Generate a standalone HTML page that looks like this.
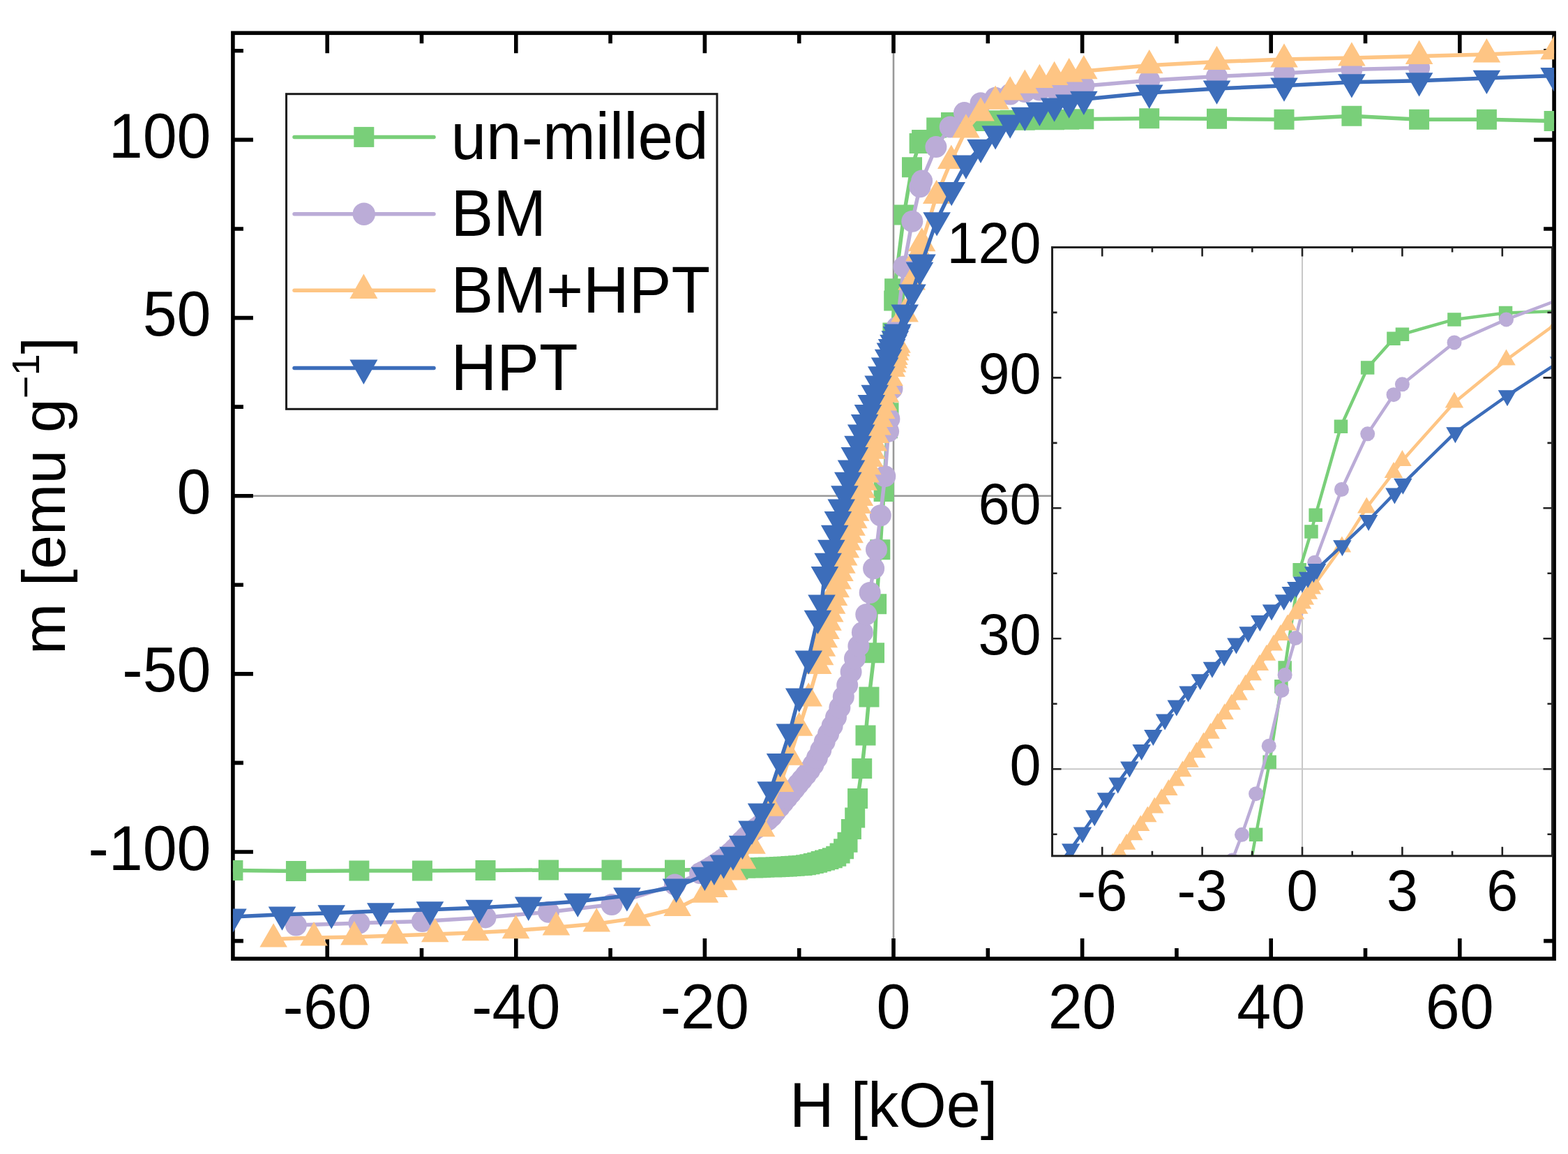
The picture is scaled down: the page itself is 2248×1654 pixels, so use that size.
<!DOCTYPE html><html><head><meta charset="utf-8"><title>m vs H</title><style>html,body{margin:0;padding:0;background:#fff;}svg{display:block;}text{font-family:'Liberation Sans', Arial, sans-serif;fill:#000;}</style></head><body>
<svg width="2248" height="1654" viewBox="0 0 2248 1654">
<defs><clipPath id="cm"><rect x="333.9" y="47.3" width="1894.2" height="1326.8"/></clipPath><clipPath id="ci"><rect x="1508.5" y="354.5" width="717" height="872.3"/></clipPath></defs>
<rect width="2248" height="1654" fill="#fff"/>
<line x1="333.9" y1="710.7" x2="2228.1" y2="710.7" stroke="#999" stroke-width="2.6"/>
<line x1="1281" y1="47.3" x2="1281" y2="1374.1" stroke="#999" stroke-width="2.6"/>
<rect x="333.9" y="47.3" width="1894.2" height="1326.8" fill="none" stroke="#000" stroke-width="5.6"/>
<path d="M469.2 1374.1v-29M469.2 47.3v29M604.5 1374.1v-15M604.5 47.3v15M739.8 1374.1v-29M739.8 47.3v29M875.1 1374.1v-15M875.1 47.3v15M1010.4 1374.1v-29M1010.4 47.3v29M1145.7 1374.1v-15M1145.7 47.3v15M1281 1374.1v-29M1281 47.3v29M1416.3 1374.1v-15M1416.3 47.3v15M1551.6 1374.1v-29M1551.6 47.3v29M1686.9 1374.1v-15M1686.9 47.3v15M1822.2 1374.1v-29M1822.2 47.3v29M1957.5 1374.1v-15M1957.5 47.3v15M2092.8 1374.1v-29M2092.8 47.3v29M333.9 1348.6h15M2228.1 1348.6h-15M333.9 1221h29M2228.1 1221h-29M333.9 1093.4h15M2228.1 1093.4h-15M333.9 965.9h29M2228.1 965.9h-29M333.9 838.3h15M2228.1 838.3h-15M333.9 710.7h29M2228.1 710.7h-29M333.9 583.1h15M2228.1 583.1h-15M333.9 455.6h29M2228.1 455.6h-29M333.9 328h15M2228.1 328h-15M333.9 200.4h29M2228.1 200.4h-29M333.9 72.8h15M2228.1 72.8h-15" stroke="#000" stroke-width="5.6" fill="none"/>
<g clip-path="url(#cm)"><polyline points="333.9,1247.5 424.4,1248.6 514.9,1248 605.4,1248 696,1247.5 786.5,1247 877,1247 967.5,1247 1058,1246 1063.4,1244.3 1068.8,1244.2 1074.3,1244 1079.7,1243.9 1085.1,1243.7 1090.5,1243.5 1095.9,1243.3 1101.3,1243.1 1106.7,1242.9 1112.1,1242.7 1117.6,1242.5 1123,1242.2 1128.4,1241.9 1133.8,1241.6 1139.2,1241.2 1144.6,1240.8 1150,1240.4 1155.4,1239.7 1160.9,1238.7 1166.3,1237.5 1171.7,1236.2 1177.1,1234.6 1182.5,1233 1187.9,1231.4 1193.3,1229.7 1198.7,1227.3 1204.1,1223 1209.6,1216.7 1215,1207.2 1220.4,1188.6 1225.7,1172 1229.6,1144.5 1235.7,1101.6 1241,1054.1 1246,999 1253.5,935.7 1256.6,865.8 1261.8,787.8 1267.1,704.6 1272.5,613.7 1274,591.8 1279.9,477 1281.7,431.1 1282.6,413.7 1295.9,308.1 1307.5,239.7 1318.1,205.5 1321.6,200.4 1342.7,183 1363.5,175.4 1384.9,173.9 1406,173.4 1427.1,172.8 1448.2,172.3 1469.3,172.3 1490.4,171.8 1511.6,171.8 1532.7,171.3 1553.8,170.8 1647.7,169.8 1744.5,170.3 1841,171.3 1937.9,166.2 2034.6,171.3 2131.4,171.3 2228.1,173.4" fill="none" stroke="#79cf79" stroke-width="5.5" stroke-linejoin="round" stroke-linecap="round"/>
<path d="M319.4 1233h29v29h-29zM409.9 1234.1h29v29h-29zM500.4 1233.5h29v29h-29zM590.9 1233.5h29v29h-29zM681.5 1233h29v29h-29zM772 1232.5h29v29h-29zM862.5 1232.5h29v29h-29zM953 1232.5h29v29h-29zM1043.5 1231.5h29v29h-29zM1048.9 1229.8h29v29h-29zM1054.3 1229.7h29v29h-29zM1059.8 1229.5h29v29h-29zM1065.2 1229.4h29v29h-29zM1070.6 1229.2h29v29h-29zM1076 1229h29v29h-29zM1081.4 1228.8h29v29h-29zM1086.8 1228.6h29v29h-29zM1092.2 1228.4h29v29h-29zM1097.6 1228.2h29v29h-29zM1103.1 1228h29v29h-29zM1108.5 1227.7h29v29h-29zM1113.9 1227.4h29v29h-29zM1119.3 1227.1h29v29h-29zM1124.7 1226.7h29v29h-29zM1130.1 1226.3h29v29h-29zM1135.5 1225.9h29v29h-29zM1140.9 1225.2h29v29h-29zM1146.4 1224.2h29v29h-29zM1151.8 1223h29v29h-29zM1157.2 1221.7h29v29h-29zM1162.6 1220.1h29v29h-29zM1168 1218.5h29v29h-29zM1173.4 1216.9h29v29h-29zM1178.8 1215.2h29v29h-29zM1184.2 1212.8h29v29h-29zM1189.6 1208.5h29v29h-29zM1195.1 1202.2h29v29h-29zM1200.5 1192.7h29v29h-29zM1205.9 1174.1h29v29h-29zM1211.2 1157.5h29v29h-29zM1215.1 1130h29v29h-29zM1221.2 1087.1h29v29h-29zM1226.5 1039.6h29v29h-29zM1231.5 984.5h29v29h-29zM1239 921.2h29v29h-29zM1242.1 851.3h29v29h-29zM1247.3 773.3h29v29h-29zM1252.6 690.1h29v29h-29zM1258 599.2h29v29h-29zM1259.5 577.3h29v29h-29zM1265.4 462.5h29v29h-29zM1267.2 416.6h29v29h-29zM1268.1 399.2h29v29h-29zM1281.4 293.6h29v29h-29zM1293 225.2h29v29h-29zM1303.6 191h29v29h-29zM1307.1 185.9h29v29h-29zM1328.2 168.5h29v29h-29zM1349 160.9h29v29h-29zM1370.4 159.4h29v29h-29zM1391.5 158.9h29v29h-29zM1412.6 158.3h29v29h-29zM1433.7 157.8h29v29h-29zM1454.8 157.8h29v29h-29zM1475.9 157.3h29v29h-29zM1497.1 157.3h29v29h-29zM1518.2 156.8h29v29h-29zM1539.3 156.3h29v29h-29zM1633.2 155.3h29v29h-29zM1730 155.8h29v29h-29zM1826.5 156.8h29v29h-29zM1923.4 151.7h29v29h-29zM2020.1 156.8h29v29h-29zM2116.9 156.8h29v29h-29zM2213.6 158.9h29v29h-29z" fill="#79cf79"/></g>
<g clip-path="url(#cm)"><polyline points="424.4,1326.1 514.9,1323.1 605.4,1320.5 696,1314.9 786.5,1307.2 877,1296.5 967.5,1267.9 1003.6,1251.6 1009,1248.8 1014.5,1245.7 1019.9,1242.4 1025.3,1239 1030.7,1235.5 1036.1,1231.7 1041.5,1227.5 1046.9,1222.7 1052.3,1217.6 1057.8,1211.9 1063.2,1206 1068.6,1200.6 1074,1195.5 1079.4,1190.8 1084.8,1186.7 1090.2,1182.7 1095.6,1178.8 1101.1,1175 1106.5,1170 1111.9,1163.3 1117.3,1156.9 1122.7,1150.4 1128.1,1143.9 1133.5,1137.4 1138.9,1130.8 1144.3,1124 1149.8,1117.5 1155.2,1110.9 1160.6,1103.9 1166,1096 1171.4,1086.2 1176.8,1074.9 1182.2,1063.1 1187.6,1051.8 1193.1,1040.5 1198.5,1028.1 1203.9,1014.1 1209.3,998.8 1214.7,981.9 1220.1,963 1225.5,943.7 1230.9,925.9 1236.4,906.4 1241.8,880.7 1247.2,849.5 1252.6,814.7 1256.5,787.8 1262.3,738.8 1268.8,682.6 1273.6,618.3 1274.9,600.5 1279,557.1 1286,469.3 1295.9,382.1 1307.8,317.3 1318.9,267.8 1321.6,259.1 1341.9,210.6 1362.2,182 1382.5,161.6 1406,147.8 1427.1,140.2 1448.2,135.1 1469.3,131.5 1490.4,129 1511.6,126.9 1532.7,124.9 1553.8,123.3 1647.7,115.2 1744.5,109.6 1841,105 1937.9,99.4 2034.6,97.3" fill="none" stroke="#bbacd7" stroke-width="5.5" stroke-linejoin="round" stroke-linecap="round"/>
<g fill="#bbacd7"><circle cx="424.4" cy="1326.1" r="15.5"/>
<circle cx="514.9" cy="1323.1" r="15.5"/>
<circle cx="605.4" cy="1320.5" r="15.5"/>
<circle cx="696" cy="1314.9" r="15.5"/>
<circle cx="786.5" cy="1307.2" r="15.5"/>
<circle cx="877" cy="1296.5" r="15.5"/>
<circle cx="967.5" cy="1267.9" r="15.5"/>
<circle cx="1003.6" cy="1251.6" r="15.5"/>
<circle cx="1009" cy="1248.8" r="15.5"/>
<circle cx="1014.5" cy="1245.7" r="15.5"/>
<circle cx="1019.9" cy="1242.4" r="15.5"/>
<circle cx="1025.3" cy="1239" r="15.5"/>
<circle cx="1030.7" cy="1235.5" r="15.5"/>
<circle cx="1036.1" cy="1231.7" r="15.5"/>
<circle cx="1041.5" cy="1227.5" r="15.5"/>
<circle cx="1046.9" cy="1222.7" r="15.5"/>
<circle cx="1052.3" cy="1217.6" r="15.5"/>
<circle cx="1057.8" cy="1211.9" r="15.5"/>
<circle cx="1063.2" cy="1206" r="15.5"/>
<circle cx="1068.6" cy="1200.6" r="15.5"/>
<circle cx="1074" cy="1195.5" r="15.5"/>
<circle cx="1079.4" cy="1190.8" r="15.5"/>
<circle cx="1084.8" cy="1186.7" r="15.5"/>
<circle cx="1090.2" cy="1182.7" r="15.5"/>
<circle cx="1095.6" cy="1178.8" r="15.5"/>
<circle cx="1101.1" cy="1175" r="15.5"/>
<circle cx="1106.5" cy="1170" r="15.5"/>
<circle cx="1111.9" cy="1163.3" r="15.5"/>
<circle cx="1117.3" cy="1156.9" r="15.5"/>
<circle cx="1122.7" cy="1150.4" r="15.5"/>
<circle cx="1128.1" cy="1143.9" r="15.5"/>
<circle cx="1133.5" cy="1137.4" r="15.5"/>
<circle cx="1138.9" cy="1130.8" r="15.5"/>
<circle cx="1144.3" cy="1124" r="15.5"/>
<circle cx="1149.8" cy="1117.5" r="15.5"/>
<circle cx="1155.2" cy="1110.9" r="15.5"/>
<circle cx="1160.6" cy="1103.9" r="15.5"/>
<circle cx="1166" cy="1096" r="15.5"/>
<circle cx="1171.4" cy="1086.2" r="15.5"/>
<circle cx="1176.8" cy="1074.9" r="15.5"/>
<circle cx="1182.2" cy="1063.1" r="15.5"/>
<circle cx="1187.6" cy="1051.8" r="15.5"/>
<circle cx="1193.1" cy="1040.5" r="15.5"/>
<circle cx="1198.5" cy="1028.1" r="15.5"/>
<circle cx="1203.9" cy="1014.1" r="15.5"/>
<circle cx="1209.3" cy="998.8" r="15.5"/>
<circle cx="1214.7" cy="981.9" r="15.5"/>
<circle cx="1220.1" cy="963" r="15.5"/>
<circle cx="1225.5" cy="943.7" r="15.5"/>
<circle cx="1230.9" cy="925.9" r="15.5"/>
<circle cx="1236.4" cy="906.4" r="15.5"/>
<circle cx="1241.8" cy="880.7" r="15.5"/>
<circle cx="1247.2" cy="849.5" r="15.5"/>
<circle cx="1252.6" cy="814.7" r="15.5"/>
<circle cx="1256.5" cy="787.8" r="15.5"/>
<circle cx="1262.3" cy="738.8" r="15.5"/>
<circle cx="1268.8" cy="682.6" r="15.5"/>
<circle cx="1273.6" cy="618.3" r="15.5"/>
<circle cx="1274.9" cy="600.5" r="15.5"/>
<circle cx="1279" cy="557.1" r="15.5"/>
<circle cx="1286" cy="469.3" r="15.5"/>
<circle cx="1295.9" cy="382.1" r="15.5"/>
<circle cx="1307.8" cy="317.3" r="15.5"/>
<circle cx="1318.9" cy="267.8" r="15.5"/>
<circle cx="1321.6" cy="259.1" r="15.5"/>
<circle cx="1341.9" cy="210.6" r="15.5"/>
<circle cx="1362.2" cy="182" r="15.5"/>
<circle cx="1382.5" cy="161.6" r="15.5"/>
<circle cx="1406" cy="147.8" r="15.5"/>
<circle cx="1427.1" cy="140.2" r="15.5"/>
<circle cx="1448.2" cy="135.1" r="15.5"/>
<circle cx="1469.3" cy="131.5" r="15.5"/>
<circle cx="1490.4" cy="129" r="15.5"/>
<circle cx="1511.6" cy="126.9" r="15.5"/>
<circle cx="1532.7" cy="124.9" r="15.5"/>
<circle cx="1553.8" cy="123.3" r="15.5"/>
<circle cx="1647.7" cy="115.2" r="15.5"/>
<circle cx="1744.5" cy="109.6" r="15.5"/>
<circle cx="1841" cy="105" r="15.5"/>
<circle cx="1937.9" cy="99.4" r="15.5"/>
<circle cx="2034.6" cy="97.3" r="15.5"/></g></g>
<g clip-path="url(#cm)"><polyline points="392.1,1346 450,1344 507.9,1343 565.8,1340.9 623.7,1338.9 681.6,1336.8 739.5,1333.8 797.4,1329.2 855.3,1324.1 913.3,1315.9 971.2,1301.6 1010.4,1282.2 1023.9,1274.6 1037.5,1264.4 1051,1250.1 1064.5,1233.8 1078,1212.3 1091.6,1187.8 1105.1,1158.2 1118.6,1123.5 1132.2,1085.3 1145.7,1043.4 1159.2,1001.1 1172.8,954.6 1175.6,941.9 1178.4,929.3 1181.3,916.8 1184.1,904.4 1187,892.2 1189.8,880.2 1192.6,868.2 1195.5,856.4 1198.3,844.7 1201.2,833.1 1204,821.7 1206.9,810.3 1209.7,799.1 1212.5,788 1215.4,777.3 1218.2,766.8 1221.1,756.3 1223.9,745.9 1226.7,735.3 1229.6,724.4 1232.4,713.4 1235.3,702.4 1238.1,691.3 1241,680.1 1243.8,668.9 1246.6,657.6 1249.5,646.3 1252.3,634.9 1255.2,623.5 1258,612 1260.8,600.4 1263.7,588.8 1266.5,577.1 1269.4,565.4 1272.2,553.5 1275,541.6 1278.2,528.5 1279.6,522.2 1281,516.3 1282.1,511.6 1283.6,505.1 1284.9,499.1 1286,494.3 1297.1,449.9 1307.1,404 1318.1,362.7 1321.6,348.9 1342.7,280.5 1363.8,230.5 1384.9,186.1 1406,162.1 1427.1,145.3 1448.2,132 1469.3,122.3 1490.4,114.7 1511.6,110.6 1532.7,106 1553.8,101.9 1647.7,93.7 1744.5,88.6 1841,85.1 1937.9,83 2034.6,80.5 2131.4,77.9 2228.1,73.8" fill="none" stroke="#fec584" stroke-width="5.5" stroke-linejoin="round" stroke-linecap="round"/>
<path d="M392.1 1323.2L411.9 1357.5L372.3 1357.5zM450 1321.1L469.8 1355.4L430.2 1355.4zM507.9 1320.1L527.7 1354.4L488.1 1354.4zM565.8 1318.1L585.6 1352.4L546 1352.4zM623.7 1316L643.5 1350.3L603.9 1350.3zM681.6 1314L701.4 1348.3L661.8 1348.3zM739.5 1310.9L759.3 1345.2L719.7 1345.2zM797.4 1306.3L817.2 1340.6L777.6 1340.6zM855.3 1301.2L875.1 1335.5L835.5 1335.5zM913.3 1293.1L933.1 1327.3L893.5 1327.3zM971.2 1278.8L991 1313.1L951.4 1313.1zM1010.4 1259.4L1030.2 1293.7L990.6 1293.7zM1023.9 1251.7L1043.7 1286L1004.1 1286zM1037.5 1241.5L1057.3 1275.8L1017.7 1275.8zM1051 1227.2L1070.8 1261.5L1031.2 1261.5zM1064.5 1210.9L1084.3 1245.2L1044.7 1245.2zM1078 1189.5L1097.8 1223.8L1058.2 1223.8zM1091.6 1165L1111.4 1199.3L1071.8 1199.3zM1105.1 1135.4L1124.9 1169.7L1085.3 1169.7zM1118.6 1100.7L1138.4 1135L1098.8 1135zM1132.2 1062.4L1152 1096.7L1112.4 1096.7zM1145.7 1020.6L1165.5 1054.8L1125.9 1054.8zM1159.2 978.2L1179 1012.5L1139.4 1012.5zM1172.8 931.8L1192.6 966.1L1153 966.1zM1175.6 919L1195.4 953.3L1155.8 953.3zM1178.4 906.4L1198.2 940.7L1158.6 940.7zM1181.3 893.9L1201.1 928.2L1161.5 928.2zM1184.1 881.6L1203.9 915.9L1164.3 915.9zM1187 869.4L1206.8 903.7L1167.2 903.7zM1189.8 857.3L1209.6 891.6L1170 891.6zM1192.6 845.4L1212.4 879.7L1172.8 879.7zM1195.5 833.6L1215.3 867.9L1175.7 867.9zM1198.3 821.9L1218.1 856.2L1178.5 856.2zM1201.2 810.3L1221 844.6L1181.4 844.6zM1204 798.8L1223.8 833.1L1184.2 833.1zM1206.9 787.4L1226.7 821.7L1187.1 821.7zM1209.7 776.2L1229.5 810.5L1189.9 810.5zM1212.5 765.1L1232.3 799.4L1192.7 799.4zM1215.4 754.4L1235.2 788.7L1195.6 788.7zM1218.2 743.9L1238 778.2L1198.4 778.2zM1221.1 733.5L1240.9 767.8L1201.3 767.8zM1223.9 723L1243.7 757.3L1204.1 757.3zM1226.7 712.4L1246.5 746.7L1206.9 746.7zM1229.6 701.6L1249.4 735.9L1209.8 735.9zM1232.4 690.6L1252.2 724.9L1212.6 724.9zM1235.3 679.5L1255.1 713.8L1215.5 713.8zM1238.1 668.4L1257.9 702.7L1218.3 702.7zM1241 657.3L1260.8 691.6L1221.2 691.6zM1243.8 646L1263.6 680.3L1224 680.3zM1246.6 634.8L1266.4 669.1L1226.8 669.1zM1249.5 623.5L1269.3 657.8L1229.7 657.8zM1252.3 612.1L1272.1 646.4L1232.5 646.4zM1255.2 600.6L1275 634.9L1235.4 634.9zM1258 589.1L1277.8 623.4L1238.2 623.4zM1260.8 577.6L1280.6 611.9L1241 611.9zM1263.7 565.9L1283.5 600.2L1243.9 600.2zM1266.5 554.3L1286.3 588.6L1246.7 588.6zM1269.4 542.5L1289.2 576.8L1249.6 576.8zM1272.2 530.7L1292 565L1252.4 565zM1275 518.8L1294.8 553.1L1255.2 553.1zM1278.2 505.7L1298 540L1258.4 540zM1279.6 499.3L1299.4 533.6L1259.8 533.6zM1281 493.5L1300.8 527.8L1261.2 527.8zM1282.1 488.7L1301.9 523L1262.3 523zM1283.6 482.2L1303.4 516.5L1263.8 516.5zM1284.9 476.2L1304.7 510.5L1265.1 510.5zM1286 471.5L1305.8 505.8L1266.2 505.8zM1297.1 427.1L1316.9 461.4L1277.3 461.4zM1307.1 381.1L1326.9 415.4L1287.3 415.4zM1318.1 339.8L1337.9 374.1L1298.3 374.1zM1321.6 326L1341.4 360.3L1301.8 360.3zM1342.7 257.7L1362.5 291.9L1322.9 291.9zM1363.8 207.6L1383.6 241.9L1344 241.9zM1384.9 163.2L1404.7 197.5L1365.1 197.5zM1406 139.3L1425.8 173.6L1386.2 173.6zM1427.1 122.4L1446.9 156.7L1407.3 156.7zM1448.2 109.2L1468 143.5L1428.4 143.5zM1469.3 99.5L1489.1 133.8L1449.5 133.8zM1490.4 91.8L1510.2 126.1L1470.6 126.1zM1511.6 87.7L1531.4 122L1491.8 122zM1532.7 83.1L1552.5 117.4L1512.9 117.4zM1553.8 79L1573.6 113.3L1534 113.3zM1647.7 70.9L1667.5 105.2L1627.9 105.2zM1744.5 65.8L1764.3 100.1L1724.7 100.1zM1841 62.2L1860.8 96.5L1821.2 96.5zM1937.9 60.2L1957.7 94.5L1918.1 94.5zM2034.6 57.6L2054.4 91.9L2014.8 91.9zM2131.4 55.1L2151.2 89.4L2111.6 89.4zM2228.1 51L2247.9 85.3L2208.3 85.3z" fill="#fec584"/></g>
<g clip-path="url(#cm)"><polyline points="333.9,1313.9 404.5,1310.8 475.2,1308.8 545.8,1305.7 616.4,1303.7 687,1301.1 757.7,1297 828.3,1291.9 898.9,1283.8 969.5,1271 1010.4,1254.2 1023.9,1246 1037.5,1236.8 1051,1225.1 1064.5,1209.3 1078,1187.8 1091.6,1162.8 1105.1,1131.7 1118.6,1091.4 1132.2,1049 1145.7,998 1159.2,943.9 1172.4,886.2 1178,863.8 1182.4,823.5 1187.1,804.1 1191.8,785.2 1196.7,764.3 1201.4,744.4 1206.2,727 1210.9,707.6 1215.8,688.2 1220.5,670.9 1225.3,652.5 1230,636.2 1234.7,619.9 1239.6,605.6 1244.5,591.3 1249.3,577.5 1254.2,563.2 1259.1,550 1263.8,536.7 1268.6,523.9 1273.6,512.2 1276.4,503 1278.6,497.4 1281,491.3 1283.3,485.7 1285.6,479.5 1287,476 1297.2,447.9 1307.9,418.8 1318.5,387.2 1321.9,375.9 1343.1,315.7 1364.2,272.4 1384.9,234.1 1406,211.1 1427.1,191.7 1448.2,175.9 1469.3,165.2 1490.4,158 1511.6,151.9 1532.7,146.8 1553.8,142.2 1647.7,133 1744.5,126.9 1841,122.8 1937.9,117.7 2034.6,115.7 2131.4,112.1 2228.1,108.5" fill="none" stroke="#3c6dba" stroke-width="5.5" stroke-linejoin="round" stroke-linecap="round"/>
<path d="M333.9 1336.7L353.7 1302.4L314.1 1302.4zM404.5 1333.7L424.3 1299.4L384.7 1299.4zM475.2 1331.6L495 1297.3L455.4 1297.3zM545.8 1328.6L565.6 1294.3L526 1294.3zM616.4 1326.5L636.2 1292.2L596.6 1292.2zM687 1324L706.8 1289.7L667.2 1289.7zM757.7 1319.9L777.5 1285.6L737.9 1285.6zM828.3 1314.8L848.1 1280.5L808.5 1280.5zM898.9 1306.6L918.7 1272.3L879.1 1272.3zM969.5 1293.9L989.3 1259.6L949.7 1259.6zM1010.4 1277L1030.2 1242.7L990.6 1242.7zM1023.9 1268.9L1043.7 1234.6L1004.1 1234.6zM1037.5 1259.7L1057.3 1225.4L1017.7 1225.4zM1051 1247.9L1070.8 1213.7L1031.2 1213.7zM1064.5 1232.1L1084.3 1197.8L1044.7 1197.8zM1078 1210.7L1097.8 1176.4L1058.2 1176.4zM1091.6 1185.7L1111.4 1151.4L1071.8 1151.4zM1105.1 1154.6L1124.9 1120.3L1085.3 1120.3zM1118.6 1114.2L1138.4 1080L1098.8 1080zM1132.2 1071.9L1152 1037.6L1112.4 1037.6zM1145.7 1020.9L1165.5 986.6L1125.9 986.6zM1159.2 966.8L1179 932.5L1139.4 932.5zM1172.4 909.1L1192.2 874.8L1152.6 874.8zM1178 886.7L1197.8 852.4L1158.2 852.4zM1182.4 846.3L1202.2 812L1162.6 812zM1187.1 826.9L1206.9 792.7L1167.3 792.7zM1191.8 808.1L1211.6 773.8L1172 773.8zM1196.7 787.1L1216.5 752.8L1176.9 752.8zM1201.4 767.2L1221.2 732.9L1181.6 732.9zM1206.2 749.9L1226 715.6L1186.4 715.6zM1210.9 730.5L1230.7 696.2L1191.1 696.2zM1215.8 711.1L1235.6 676.8L1196 676.8zM1220.5 693.8L1240.3 659.5L1200.7 659.5zM1225.3 675.4L1245.1 641.1L1205.5 641.1zM1230 659.1L1249.8 624.8L1210.2 624.8zM1234.7 642.7L1254.5 608.4L1214.9 608.4zM1239.6 628.4L1259.4 594.1L1219.8 594.1zM1244.5 614.2L1264.3 579.9L1224.7 579.9zM1249.3 600.4L1269.1 566.1L1229.5 566.1zM1254.2 586.1L1274 551.8L1234.4 551.8zM1259.1 572.8L1278.9 538.5L1239.3 538.5zM1263.8 559.6L1283.6 525.3L1244 525.3zM1268.6 546.8L1288.4 512.5L1248.8 512.5zM1273.6 535.1L1293.4 500.8L1253.8 500.8zM1276.4 525.9L1296.2 491.6L1256.6 491.6zM1278.6 520.3L1298.4 486L1258.8 486zM1281 514.1L1300.8 479.8L1261.2 479.8zM1283.3 508.5L1303.1 474.2L1263.5 474.2zM1285.6 502.4L1305.4 468.1L1265.8 468.1zM1287 498.8L1306.8 464.5L1267.2 464.5zM1297.2 470.8L1317 436.5L1277.4 436.5zM1307.9 441.7L1327.7 407.4L1288.1 407.4zM1318.5 410L1338.3 375.7L1298.7 375.7zM1321.9 398.8L1341.7 364.5L1302.1 364.5zM1343.1 338.6L1362.9 304.3L1323.3 304.3zM1364.2 295.2L1384 260.9L1344.4 260.9zM1384.9 256.9L1404.7 222.6L1365.1 222.6zM1406 234L1425.8 199.7L1386.2 199.7zM1427.1 214.6L1446.9 180.3L1407.3 180.3zM1448.2 198.8L1468 164.5L1428.4 164.5zM1469.3 188.1L1489.1 153.8L1449.5 153.8zM1490.4 180.9L1510.2 146.6L1470.6 146.6zM1511.6 174.8L1531.4 140.5L1491.8 140.5zM1532.7 169.7L1552.5 135.4L1512.9 135.4zM1553.8 165.1L1573.6 130.8L1534 130.8zM1647.7 155.9L1667.5 121.6L1627.9 121.6zM1744.5 149.8L1764.3 115.5L1724.7 115.5zM1841 145.7L1860.8 111.4L1821.2 111.4zM1937.9 140.6L1957.7 106.3L1918.1 106.3zM2034.6 138.6L2054.4 104.3L2014.8 104.3zM2131.4 135L2151.2 100.7L2111.6 100.7zM2228.1 131.4L2247.9 97.1L2208.3 97.1z" fill="#3c6dba"/></g>
<text transform="translate(469.2 1474) scale(1 1.03)" font-size="88" text-anchor="middle">-60</text>
<text transform="translate(739.8 1474) scale(1 1.03)" font-size="88" text-anchor="middle">-40</text>
<text transform="translate(1010.4 1474) scale(1 1.03)" font-size="88" text-anchor="middle">-20</text>
<text transform="translate(1281 1474) scale(1 1.03)" font-size="88" text-anchor="middle">0</text>
<text transform="translate(1551.6 1474) scale(1 1.03)" font-size="88" text-anchor="middle">20</text>
<text transform="translate(1822.2 1474) scale(1 1.03)" font-size="88" text-anchor="middle">40</text>
<text transform="translate(2092.8 1474) scale(1 1.03)" font-size="88" text-anchor="middle">60</text>
<text transform="translate(302.5 1246.5) scale(1 1.03)" font-size="88" text-anchor="end">-100</text>
<text transform="translate(302.5 991.4) scale(1 1.03)" font-size="88" text-anchor="end">-50</text>
<text transform="translate(302.5 736.2) scale(1 1.03)" font-size="88" text-anchor="end">0</text>
<text transform="translate(302.5 481.1) scale(1 1.03)" font-size="88" text-anchor="end">50</text>
<text transform="translate(302.5 225.9) scale(1 1.03)" font-size="88" text-anchor="end">100</text>
<text transform="translate(1281 1615) scale(1 1.03)" font-size="88" text-anchor="middle">H [kOe]</text>
<text transform="translate(93 710.5) rotate(-90)" font-size="88" text-anchor="middle">m [emu g<tspan font-size="56" dy="-37">−1</tspan><tspan dy="37">]</tspan></text>
<rect x="410.5" y="134.7" width="617.5" height="451.6" fill="#fff" stroke="#1a1a1a" stroke-width="3"/>
<line x1="422" y1="196.4" x2="622" y2="196.4" stroke="#79cf79" stroke-width="5.5" stroke-linecap="round"/>
<path d="M507.3 181.9h29v29h-29z" fill="#79cf79"/>
<text transform="translate(646.5 227.9) scale(1 1.03)" font-size="91" text-anchor="start">un-milled</text>
<line x1="422" y1="306.7" x2="622" y2="306.7" stroke="#bbacd7" stroke-width="5.5" stroke-linecap="round"/>
<circle cx="521.8" cy="306.7" r="16.2" fill="#bbacd7"/>
<text transform="translate(646.5 338.2) scale(1 1.03)" font-size="91" text-anchor="start">BM</text>
<line x1="422" y1="416.2" x2="622" y2="416.2" stroke="#fec584" stroke-width="5.5" stroke-linecap="round"/>
<path d="M521.4 392.5L541.4 428L501.4 428z" fill="#fec584"/>
<text transform="translate(646.5 447.7) scale(1 1.03)" font-size="91" text-anchor="start">BM+HPT</text>
<line x1="422" y1="527.4" x2="622" y2="527.4" stroke="#3c6dba" stroke-width="5.5" stroke-linecap="round"/>
<path d="M521.4 551.1L541.4 515.6L501.4 515.6z" fill="#3c6dba"/>
<text transform="translate(646.5 558.9) scale(1 1.03)" font-size="91" text-anchor="start">HPT</text>
<rect x="1508.5" y="354.5" width="717" height="872.3" fill="#fff"/>
<line x1="1508.5" y1="1102.2" x2="2225.5" y2="1102.2" stroke="#c8c8c8" stroke-width="2"/>
<line x1="1867" y1="354.5" x2="1867" y2="1226.8" stroke="#c8c8c8" stroke-width="2"/>
<g clip-path="url(#ci)"><polyline points="1790.5,1251.7 1800.6,1196.3 1820.2,1092.2 1836.9,983.8 1842.1,957 1863.2,816.8 1879.9,762 1886.1,738.3 1922.4,611.2 1960.7,527.1 1998,485.3 2010.4,479.1 2085,457.9 2158.6,448.6 2234.1,446.1" fill="none" stroke="#79cf79" stroke-width="4.5" stroke-linejoin="round" stroke-linecap="round"/>
<path d="M1780.8 1242h19.5v19.5h-19.5zM1790.8 1186.5h19.5v19.5h-19.5zM1810.4 1082.5h19.5v19.5h-19.5zM1827.1 974.1h19.5v19.5h-19.5zM1832.4 947.3h19.5v19.5h-19.5zM1853.4 807.1h19.5v19.5h-19.5zM1870.2 752.2h19.5v19.5h-19.5zM1876.4 728.6h19.5v19.5h-19.5zM1912.7 601.4h19.5v19.5h-19.5zM1950.9 517.3h19.5v19.5h-19.5zM1988.2 475.6h19.5v19.5h-19.5zM2000.7 469.4h19.5v19.5h-19.5zM2075.2 448.2h19.5v19.5h-19.5zM2148.8 438.8h19.5v19.5h-19.5zM2224.4 436.3h19.5v19.5h-19.5z" fill="#79cf79"/></g>
<g clip-path="url(#ci)"><polyline points="1766.6,1233.1 1780.5,1196.3 1800.6,1137.7 1819.2,1069.2 1837.8,989.4 1842.1,967.6 1857.4,914.6 1884.7,806.2 1923.4,701.5 1960.7,621.8 1998,565.7 2010.4,550.8 2085,490.9 2159.5,457.9 2234.1,429.9" fill="none" stroke="#bbacd7" stroke-width="4.5" stroke-linejoin="round" stroke-linecap="round"/>
<g fill="#bbacd7"><circle cx="1766.6" cy="1233.1" r="10.5"/>
<circle cx="1780.5" cy="1196.3" r="10.5"/>
<circle cx="1800.6" cy="1137.7" r="10.5"/>
<circle cx="1819.2" cy="1069.2" r="10.5"/>
<circle cx="1837.8" cy="989.4" r="10.5"/>
<circle cx="1842.1" cy="967.6" r="10.5"/>
<circle cx="1857.4" cy="914.6" r="10.5"/>
<circle cx="1884.7" cy="806.2" r="10.5"/>
<circle cx="1923.4" cy="701.5" r="10.5"/>
<circle cx="1960.7" cy="621.8" r="10.5"/>
<circle cx="1998" cy="565.7" r="10.5"/>
<circle cx="2010.4" cy="550.8" r="10.5"/>
<circle cx="2085" cy="490.9" r="10.5"/>
<circle cx="2159.5" cy="457.9" r="10.5"/>
<circle cx="2234.1" cy="429.9" r="10.5"/></g></g>
<g clip-path="url(#ci)"><polyline points="1484.6,1400 1494.6,1384.5 1504.7,1369.1 1514.7,1353.8 1524.8,1338.8 1534.8,1323.9 1544.8,1309.1 1554.9,1294.6 1564.9,1280.1 1574.9,1265.8 1585,1251.7 1595,1237.7 1605.1,1223.8 1615.1,1210.1 1625.1,1196.6 1635.2,1183.5 1645.2,1170.7 1655.2,1157.9 1665.3,1145.2 1675.3,1132.2 1685.4,1119 1695.4,1105.5 1705.4,1092 1715.5,1078.5 1725.5,1064.9 1735.5,1051.2 1745.6,1037.4 1755.6,1023.6 1765.7,1009.7 1775.7,995.7 1785.7,981.7 1795.8,967.6 1805.8,953.4 1815.9,939.1 1825.9,924.7 1835.9,910.3 1846,895.8 1857,879.8 1862.2,872 1867,864.9 1870.8,859.1 1876.1,851.1 1880.9,843.8 1884.7,838 1923.9,783.8 1959.3,727.7 1998,677.2 2010.4,660.4 2085,576.9 2159.5,515.9 2234.1,461.7" fill="none" stroke="#fec584" stroke-width="4.5" stroke-linejoin="round" stroke-linecap="round"/>
<path d="M1484.6 1384.7L1497.8 1407.7L1471.3 1407.7zM1494.6 1369.2L1507.9 1392.1L1481.4 1392.1zM1504.7 1353.8L1517.9 1376.7L1491.4 1376.7zM1514.7 1338.5L1528 1361.5L1501.5 1361.5zM1524.8 1323.5L1538 1346.4L1511.5 1346.4zM1534.8 1308.6L1548 1331.5L1521.5 1331.5zM1544.8 1293.8L1558.1 1316.8L1531.6 1316.8zM1554.9 1279.3L1568.1 1302.2L1541.6 1302.2zM1564.9 1264.8L1578.2 1287.8L1551.7 1287.8zM1574.9 1250.5L1588.2 1273.5L1561.7 1273.5zM1585 1236.4L1598.2 1259.4L1571.7 1259.4zM1595 1222.4L1608.3 1245.3L1581.8 1245.3zM1605.1 1208.5L1618.3 1231.5L1591.8 1231.5zM1615.1 1194.8L1628.3 1217.7L1601.8 1217.7zM1625.1 1181.3L1638.4 1204.2L1611.9 1204.2zM1635.2 1168.2L1648.4 1191.1L1621.9 1191.1zM1645.2 1155.4L1658.5 1178.3L1632 1178.3zM1655.2 1142.6L1668.5 1165.6L1642 1165.6zM1665.3 1129.9L1678.5 1152.8L1652 1152.8zM1675.3 1116.9L1688.6 1139.9L1662.1 1139.9zM1685.4 1103.7L1698.6 1126.6L1672.1 1126.6zM1695.4 1090.2L1708.6 1113.2L1682.1 1113.2zM1705.4 1076.7L1718.7 1099.7L1692.2 1099.7zM1715.5 1063.2L1728.7 1086.1L1702.2 1086.1zM1725.5 1049.6L1738.8 1072.5L1712.3 1072.5zM1735.5 1035.9L1748.8 1058.8L1722.3 1058.8zM1745.6 1022.1L1758.8 1045.1L1732.3 1045.1zM1755.6 1008.3L1768.9 1031.2L1742.4 1031.2zM1765.7 994.4L1778.9 1017.3L1752.4 1017.3zM1775.7 980.4L1789 1003.4L1762.5 1003.4zM1785.7 966.4L1799 989.3L1772.5 989.3zM1795.8 952.3L1809 975.2L1782.5 975.2zM1805.8 938.1L1819.1 961L1792.6 961zM1815.9 923.8L1829.1 946.7L1802.6 946.7zM1825.9 909.4L1839.1 932.4L1812.6 932.4zM1835.9 895L1849.2 917.9L1822.7 917.9zM1846 880.5L1859.2 903.4L1832.7 903.4zM1857 864.5L1870.2 887.4L1843.7 887.4zM1862.2 856.7L1875.5 879.7L1849 879.7zM1867 849.6L1880.2 872.5L1853.8 872.5zM1870.8 843.8L1884.1 866.7L1857.6 866.7zM1876.1 835.8L1889.3 858.8L1862.8 858.8zM1880.9 828.5L1894.1 851.5L1867.6 851.5zM1884.7 822.7L1897.9 845.7L1871.4 845.7zM1923.9 768.5L1937.1 791.4L1910.6 791.4zM1959.3 712.4L1972.5 735.4L1946 735.4zM1998 661.9L2011.2 684.9L1984.7 684.9zM2010.4 645.1L2023.7 668.1L1997.2 668.1zM2085 561.6L2098.2 584.6L2071.7 584.6zM2159.5 500.6L2172.8 523.5L2146.3 523.5zM2234.1 446.4L2247.4 469.3L2220.9 469.3z" fill="#fec584"/></g>
<g clip-path="url(#ci)"><polyline points="1501.3,1260.5 1518.5,1239.3 1535.3,1216.9 1552,1193.2 1569.2,1168.9 1585.9,1143.9 1602.7,1122.1 1619.4,1099.1 1636.6,1074.8 1653.3,1053.6 1670.1,1031.2 1686.8,1011.2 1703.5,991.3 1720.7,973.8 1737.9,956.4 1755.1,939.6 1772.4,922.1 1789.6,905.9 1806.3,889.7 1823,874.1 1840.7,859.8 1850.7,848.6 1858.4,841.7 1867,834.3 1875.1,827.4 1883.3,819.9 1888,815.6 1924.4,781.9 1962.1,745.8 1999.4,707.2 2011.4,693.4 2086.4,619.9 2161,567 2235.1,519" fill="none" stroke="#3c6dba" stroke-width="4.5" stroke-linejoin="round" stroke-linecap="round"/>
<path d="M1501.3 1275.8L1514.6 1252.8L1488.1 1252.8zM1518.5 1254.6L1531.8 1231.6L1505.3 1231.6zM1535.3 1232.2L1548.5 1209.2L1522 1209.2zM1552 1208.5L1565.2 1185.5L1538.7 1185.5zM1569.2 1184.2L1582.5 1161.2L1556 1161.2zM1585.9 1159.2L1599.2 1136.3L1572.7 1136.3zM1602.7 1137.4L1615.9 1114.5L1589.4 1114.5zM1619.4 1114.4L1632.6 1091.4L1606.1 1091.4zM1636.6 1090.1L1649.9 1067.1L1623.4 1067.1zM1653.3 1068.9L1666.6 1045.9L1640.1 1045.9zM1670.1 1046.5L1683.3 1023.5L1656.8 1023.5zM1686.8 1026.5L1700 1003.6L1673.5 1003.6zM1703.5 1006.6L1716.8 983.6L1690.3 983.6zM1720.7 989.1L1734 966.2L1707.5 966.2zM1737.9 971.7L1751.2 948.7L1724.7 948.7zM1755.1 954.9L1768.4 931.9L1741.9 931.9zM1772.4 937.4L1785.6 914.5L1759.1 914.5zM1789.6 921.2L1802.8 898.3L1776.3 898.3zM1806.3 905L1819.5 882.1L1793 882.1zM1823 889.4L1836.3 866.5L1809.8 866.5zM1840.7 875.1L1854 852.2L1827.5 852.2zM1850.7 863.9L1864 840.9L1837.5 840.9zM1858.4 857L1871.6 834.1L1845.1 834.1zM1867 849.6L1880.2 826.6L1853.8 826.6zM1875.1 842.7L1888.4 819.8L1861.9 819.8zM1883.3 835.2L1896.5 812.3L1870 812.3zM1888 830.9L1901.3 807.9L1874.8 807.9zM1924.4 797.2L1937.6 774.3L1911.1 774.3zM1962.1 761.1L1975.4 738.1L1948.9 738.1zM1999.4 722.5L2012.7 699.5L1986.2 699.5zM2011.4 708.7L2024.6 685.8L1998.1 685.8zM2086.4 635.2L2099.7 612.3L2073.2 612.3zM2161 582.3L2174.2 559.3L2147.7 559.3zM2235.1 534.3L2248.3 511.3L2221.8 511.3z" fill="#3c6dba"/></g>
<path d="M1508.5 1226.8v-7M1508.5 354.5v7M1580.2 1226.8v-13M1580.2 354.5v13M1651.9 1226.8v-7M1651.9 354.5v7M1723.6 1226.8v-13M1723.6 354.5v13M1795.3 1226.8v-7M1795.3 354.5v7M1867 1226.8v-13M1867 354.5v13M1938.7 1226.8v-7M1938.7 354.5v7M2010.4 1226.8v-13M2010.4 354.5v13M2082.1 1226.8v-7M2082.1 354.5v7M2153.8 1226.8v-13M2153.8 354.5v13M2225.5 1226.8v-7M2225.5 354.5v7M1508.5 1195.7h7M2225.5 1195.7h-7M1508.5 1102.2h13M2225.5 1102.2h-13M1508.5 1008.7h7M2225.5 1008.7h-7M1508.5 915.3h13M2225.5 915.3h-13M1508.5 821.8h7M2225.5 821.8h-7M1508.5 728.3h13M2225.5 728.3h-13M1508.5 634.9h7M2225.5 634.9h-7M1508.5 541.4h13M2225.5 541.4h-13M1508.5 447.9h7M2225.5 447.9h-7M1508.5 354.5h13M2225.5 354.5h-13" stroke="#222" stroke-width="2.6" fill="none"/>
<rect x="1508.5" y="354.5" width="717" height="872.3" fill="none" stroke="#222" stroke-width="3"/>
<text transform="translate(1580.2 1305.4) scale(1 1.035)" font-size="81" text-anchor="middle">-6</text>
<text transform="translate(1723.6 1305.4) scale(1 1.035)" font-size="81" text-anchor="middle">-3</text>
<text transform="translate(1867 1305.4) scale(1 1.035)" font-size="81" text-anchor="middle">0</text>
<text transform="translate(2010.4 1305.4) scale(1 1.035)" font-size="81" text-anchor="middle">3</text>
<text transform="translate(2153.8 1305.4) scale(1 1.035)" font-size="81" text-anchor="middle">6</text>
<text transform="translate(1492.5 1124.9) scale(1 1.035)" font-size="81" text-anchor="end">0</text>
<text transform="translate(1492.5 938) scale(1 1.035)" font-size="81" text-anchor="end">30</text>
<text transform="translate(1492.5 751) scale(1 1.035)" font-size="81" text-anchor="end">60</text>
<text transform="translate(1492.5 564.1) scale(1 1.035)" font-size="81" text-anchor="end">90</text>
<text transform="translate(1492.5 377.2) scale(1 1.035)" font-size="81" text-anchor="end">120</text>
</svg></body></html>
